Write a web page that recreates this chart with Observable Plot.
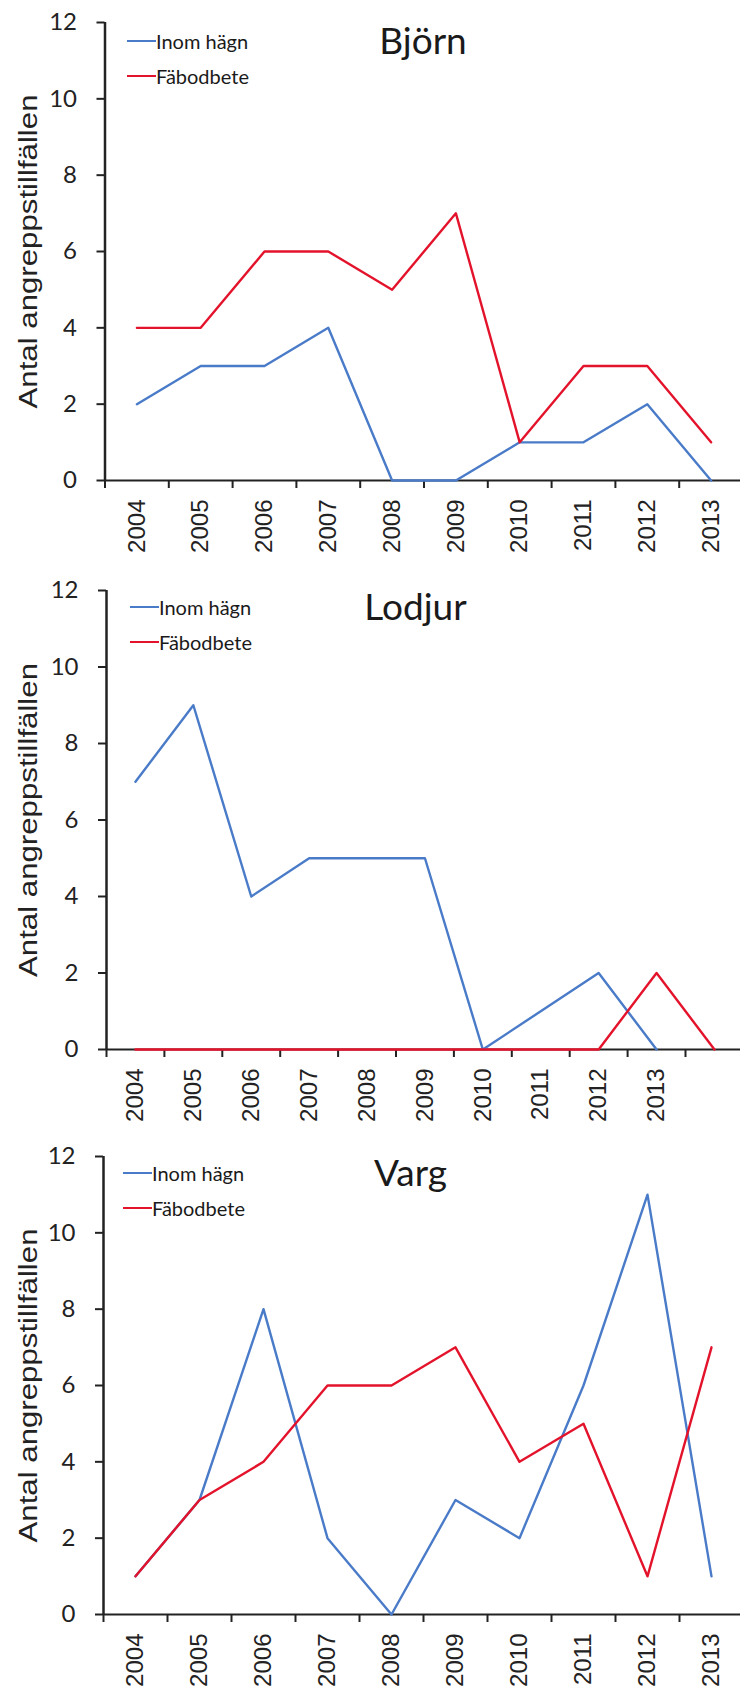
<!DOCTYPE html>
<html>
<head>
<meta charset="utf-8">
<script src="https://cdn.jsdelivr.net/npm/d3@7"></script>
<script src="https://cdn.jsdelivr.net/npm/@observablehq/plot@0.6"></script>
<style>
  body { margin: 0; background: #fff; }
  #wrap { position: relative; width: 740px; height: 1690px; overflow: hidden; background: #fff; }
  .panel { position: absolute; left: 0; width: 740px; }
  .panel svg { display: block; overflow: visible; }
  .legend-item { position: absolute; display: flex; align-items: center; height: 24px; white-space: nowrap;
    font-family: Lato, "Open Sans", sans-serif; font-size: 20px; color: #1a1a1a; }
  .legend-item .sw { width: 29px; height: 2px; }
</style>
</head>
<body>
<div id="wrap"></div>
<script>
// ---- data ----
const seriesNames = ["Inom hägn", "Fäbodbete"];
const yTitle = "Antal angreppstillfällen";
const yTicks = [0, 2, 4, 6, 8, 10, 12];

const bjornLabels = ["2004", "2005", "2006", "2007", "2008", "2009", "2010", "2011", "2012", "2013"];
const bjornInom  = [2, 3, 3, 4, 0, 0, 1, 1, 2, 0];
const bjornFabod = [4, 4, 6, 6, 5, 7, 1, 3, 3, 1];

const lodjurLabels = ["2004", "2005", "2006", "2007", "2008", "2009", "2010", "2011", "2012", "2013", ""];
const lodjurInom  = [7, 9, 4, 5, 5, 5, 0, 1, 2, 0, null];
const lodjurFabod = [0, 0, 0, 0, 0, 0, 0, 0, 0, 2, 0];

const vargLabels = ["2004", "2005", "2006", "2007", "2008", "2009", "2010", "2011", "2012", "2013"];
const vargInom  = [1, 3, 8, 2, 0, 3, 2, 6, 11, 1];
const vargFabod = [1, 3, 4, 6, 6, 7, 4, 5, 1, 7];

// ---- styling ----
const BLUE = "#4a7bc8";
const RED = "#e3132c";
const INK = "#222";

const panels = [
  {title: "Björn", labels: bjornLabels, inom: bjornInom, fabod: bjornFabod,
   top: 0, height: 570, mt: 22, mb: 90, x0: 104.5, step: 63.8,
   titleX: 422.5, titleBase: 53, legX: 127, legY: [41, 76]},
  {title: "Lodjur", labels: lodjurLabels, inom: lodjurInom, fabod: lodjurFabod,
   top: 570, height: 560, mt: 20, mb: 81, x0: 106, step: 57.9,
   titleX: 415, titleBase: 49, legX: 130, legY: [37, 72]},
  {title: "Varg", labels: vargLabels, inom: vargInom, fabod: vargFabod,
   top: 1130, height: 560, mt: 26, mb: 76, x0: 103, step: 64,
   titleX: 410, titleBase: 55, legX: 123, legY: [43, 78]}
];

const wrap = document.getElementById("wrap");

for (const p of panels) {
  const n = p.labels.length;
  const idx = d3.range(n);
  const bounds = d3.range(n + 1).map(i => i - 0.5);
  const frameMid = (p.mt + p.height - p.mb) / 2;

  const svg = Plot.plot({
    width: 740,
    height: p.height,
    marginTop: p.mt,
    marginBottom: p.mb,
    marginLeft: p.x0,
    marginRight: 0,
    style: {background: "#fff", overflow: "visible"},
    x: {type: "linear", domain: [-0.5, n - 0.5], range: [p.x0, p.x0 + p.step * n]},
    y: {domain: [0, 12]},
    marks: [
      // y-axis with ticks
      Plot.axisY({ticks: yTicks, tickSize: 8, tickPadding: 20, fontSize: 24,
        fontFamily: "Lato, 'Open Sans', sans-serif", color: INK, strokeWidth: 2, label: null}),
      // x-axis boundary ticks
      Plot.axisX({ticks: bounds, tickSize: 8, tickFormat: () => "", color: INK, strokeWidth: 2, label: null}),
      // x-axis category labels
      Plot.axisX({ticks: idx, tickFormat: i => p.labels[i], tickSize: 0, tickPadding: 19, tickRotate: -90,
        fontSize: 24, fontFamily: "'Liberation Sans', Arial, sans-serif", color: INK, label: null}),
      // axis lines
      Plot.ruleX([-0.5], {y1: 0, y2: 12, stroke: INK, strokeWidth: 2.5}),
      Plot.ruleY([0], {stroke: INK, strokeWidth: 2}),
      // series
      Plot.line(p.inom, {x: (d, i) => i, y: d => d, stroke: BLUE, strokeWidth: 2.4}),
      Plot.line(p.fabod, {x: (d, i) => i, y: d => d, stroke: RED, strokeWidth: 2.4}),
      // y title
      Plot.text([yTitle], {frameAnchor: "left", dx: 28 - p.x0, rotate: -90, textAnchor: "middle",
        lineAnchor: "middle", fontSize: 26, fontFamily: "'Liberation Sans', Arial, sans-serif", fill: INK}),
      // panel title
      Plot.text([p.title], {frameAnchor: "top-left", dx: p.titleX - p.x0, dy: p.titleBase - p.mt,
        textAnchor: "middle", lineAnchor: "bottom", fontSize: 37,
        fontFamily: "Lato, 'Open Sans', sans-serif", fill: "#1a1a1a"})
    ]
  });

  d3.select(svg).selectAll("text")
    .filter(function () { return this.textContent === yTitle; })
    .attr("textLength", 314)
    .attr("lengthAdjust", "spacingAndGlyphs");

  const div = document.createElement("div");
  div.className = "panel";
  div.style.top = p.top + "px";
  div.style.height = p.height + "px";
  div.appendChild(svg);

  [p.inom, p.fabod].forEach((_, k) => {
    const item = document.createElement("div");
    item.className = "legend-item";
    item.style.left = p.legX + "px";
    item.style.top = (p.legY[k] - 12) + "px";
    const sw = document.createElement("span");
    sw.className = "sw";
    sw.style.background = k === 0 ? BLUE : RED;
    const tx = document.createElement("span");
    tx.textContent = seriesNames[k];
    item.appendChild(sw);
    item.appendChild(tx);
    div.appendChild(item);
  });

  wrap.appendChild(div);
}
</script>
</body>
</html>
